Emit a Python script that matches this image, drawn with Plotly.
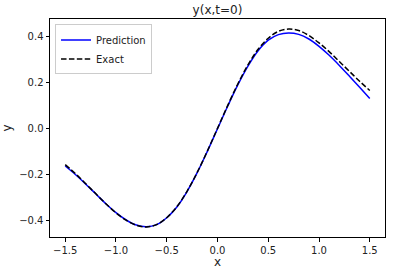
import plotly.graph_objects as go

x = [-1.5, -1.4, -1.3, -1.2, -1.1, -1.0, -0.9, -0.8, -0.7, -0.6, -0.5, -0.4, -0.3, -0.2, -0.1, 0.0,
     0.1, 0.2, 0.3, 0.4, 0.5, 0.6, 0.7, 0.8, 0.9, 1.0, 1.1, 1.2, 1.3, 1.4, 1.5]

exact = [-0.158, -0.197, -0.240, -0.284, -0.328, -0.368, -0.400, -0.422, -0.429, -0.419, -0.389,
         -0.341, -0.274, -0.192, -0.099, 0.000, 0.099, 0.193, 0.276, 0.344, 0.392, 0.422, 0.432,
         0.426, 0.404, 0.372, 0.334, 0.291, 0.248, 0.205, 0.165]

prediction = [-0.164, -0.201, -0.242, -0.285, -0.328, -0.367, -0.399, -0.421, -0.428, -0.419, -0.389,
              -0.342, -0.275, -0.193, -0.100, -0.002, 0.096, 0.189, 0.271, 0.338, 0.384, 0.408, 0.415,
              0.409, 0.389, 0.357, 0.318, 0.274, 0.227, 0.179, 0.130]

xticks = [-1.5, -1.0, -0.5, 0.0, 0.5, 1.0, 1.5]
xlabels = ['\u22121.5', '\u22121.0', '\u22120.5', '0.0', '0.5', '1.0', '1.5']
yticks = [-0.4, -0.2, 0.0, 0.2, 0.4]
ylabels = ['\u22120.4', '\u22120.2', '0.0', '0.2', '0.4']

fig = go.Figure()
fig.add_trace(go.Scatter(x=x, y=prediction, mode='lines', name='Prediction',
                         line=dict(color='#0000ff', width=1.5, shape='spline')))
fig.add_trace(go.Scatter(x=x, y=exact, mode='lines', name='Exact',
                         line=dict(color='black', width=1.5, dash='5.5px,2.4px', shape='spline')))

axis_style = dict(showline=True, linecolor='black', linewidth=1, mirror=True,
                  ticks='outside', ticklen=3.5, tickcolor='black', showgrid=False,
                  zeroline=False, automargin=False, tickfont=dict(size=10, color='#222'))

fig.update_layout(
    width=395, height=275,
    margin=dict(l=50, r=10, t=19, b=38),
    paper_bgcolor='white', plot_bgcolor='white',
    font=dict(family='DejaVu Sans', size=10, color='#222'),
    title=dict(text='y(x,t=0)', xref='paper', x=0.5, xanchor='center',
               yref='container', y=1 - 10 / 275, yanchor='middle',
               font=dict(size=12, color='#222')),
    xaxis=dict(range=[-1.65, 1.65], tickvals=xticks, ticktext=xlabels,
               title=dict(text='x', standoff=3), **axis_style),
    yaxis=dict(range=[-0.473, 0.476], tickvals=yticks, ticktext=ylabels,
               title=dict(text='y', standoff=8), **axis_style),
    legend=dict(x=0.015, y=0.975, xanchor='left', yanchor='top',
                bgcolor='rgba(255,255,255,0.8)', bordercolor='#cccccc', borderwidth=1,
                font=dict(size=10), tracegroupgap=0, itemwidth=30),
    showlegend=True,
)

fig.write_html("out.html", config={'displayModeBar': False},
               post_script="document.body.style.margin='0';")
